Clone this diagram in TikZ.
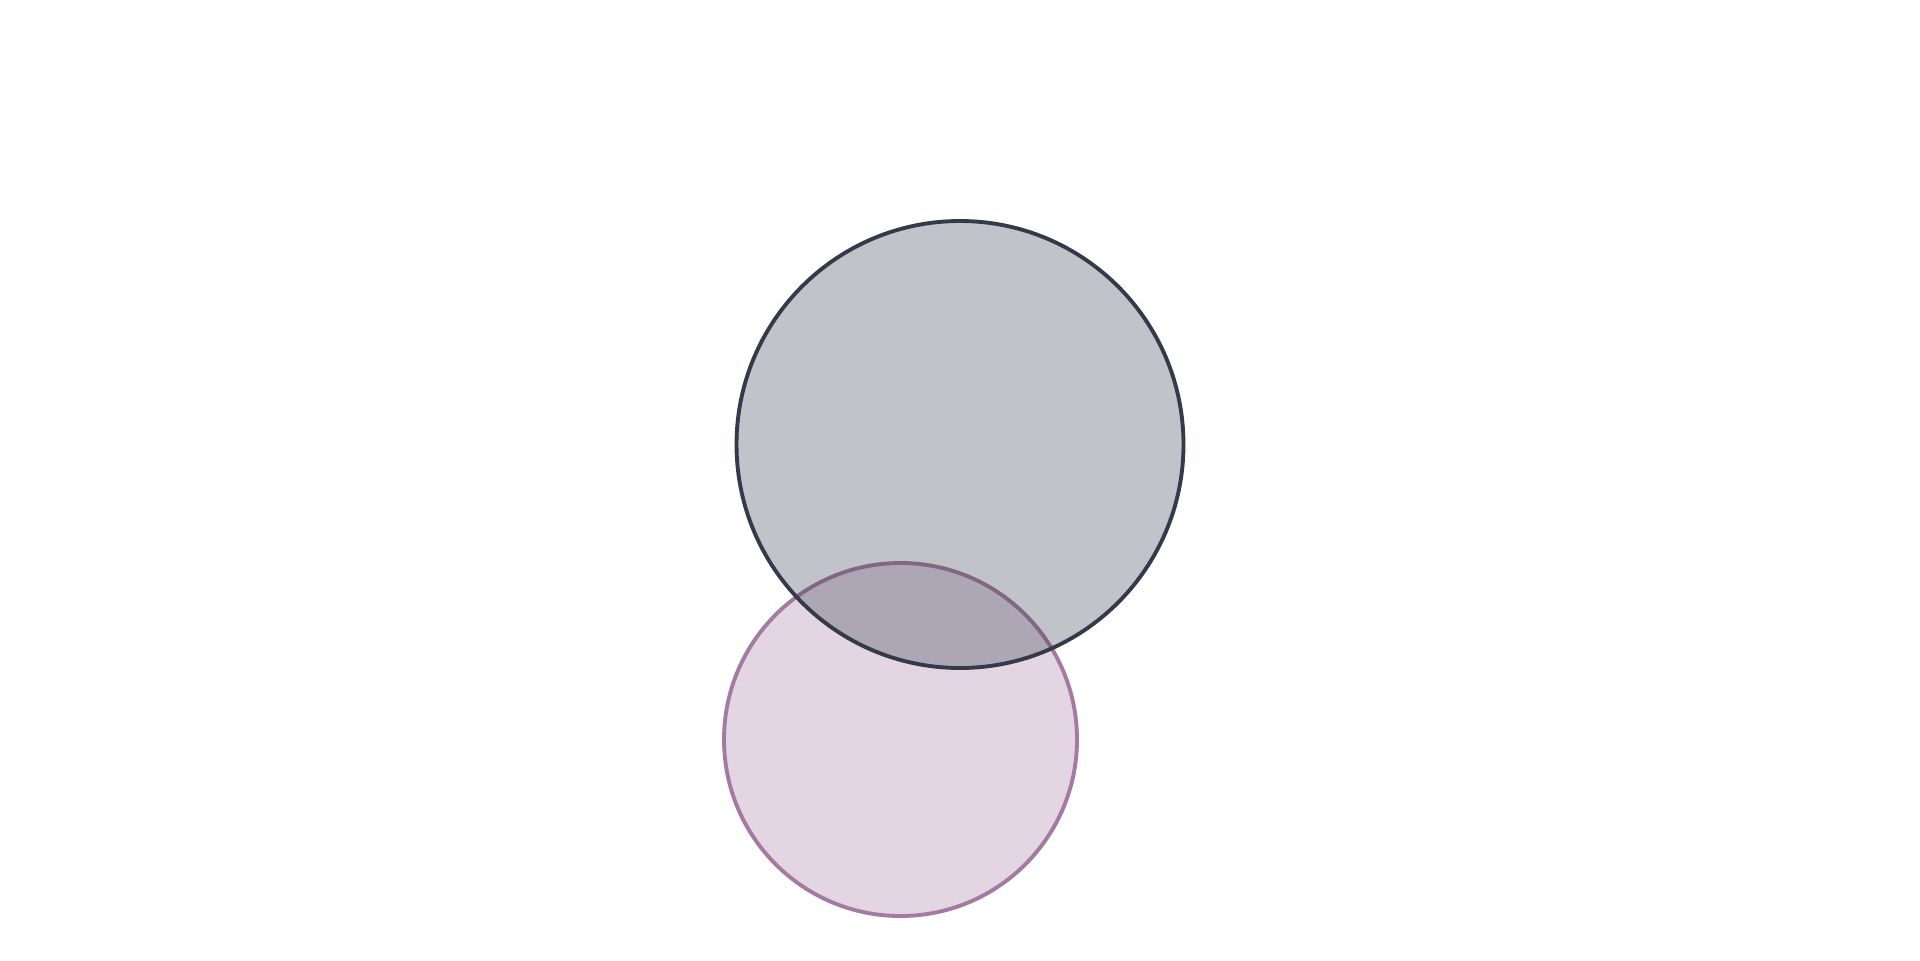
\documentclass[tikz,border=0pt]{standalone}
\usepackage{tikz}
\usepackage{xcolor}
\definecolor{bigc}{HTML}{333A4A}
\definecolor{smallc}{HTML}{A47AA0}

\begin{document}
\begin{tikzpicture}[x=1cm,y=1cm]
  \useasboundingbox (0,0) rectangle (19.2,9.6);
  \fill[white] (0,0) rectangle (19.2,9.6);

  % ==========================================================
  %                     PARAMETERS
  % ==========================================================
  \def\rBig{2.235}          % upper circle radius (cm)
  \def\rSmall{1.765}        % lower circle radius (cm)
  \def\fillOp{0.3}          % fill opacity of both discs
  \def\lineW{1.1pt}         % outline width

  \coordinate (bigCentre)   at (9.60,5.155);
  \coordinate (smallCentre) at (9.005,2.205);

  % ==========================================================
  %                     LOWER CIRCLE (mauve)
  % ==========================================================
  \draw[smallc, line width=\lineW, fill=smallc, fill opacity=\fillOp]
    (smallCentre) circle (\rSmall);

  % ==========================================================
  %                     UPPER CIRCLE (slate) — drawn on top
  % ==========================================================
  \draw[bigc, line width=\lineW, fill=bigc, fill opacity=\fillOp]
    (bigCentre) circle (\rBig);

\end{tikzpicture}
\end{document}
